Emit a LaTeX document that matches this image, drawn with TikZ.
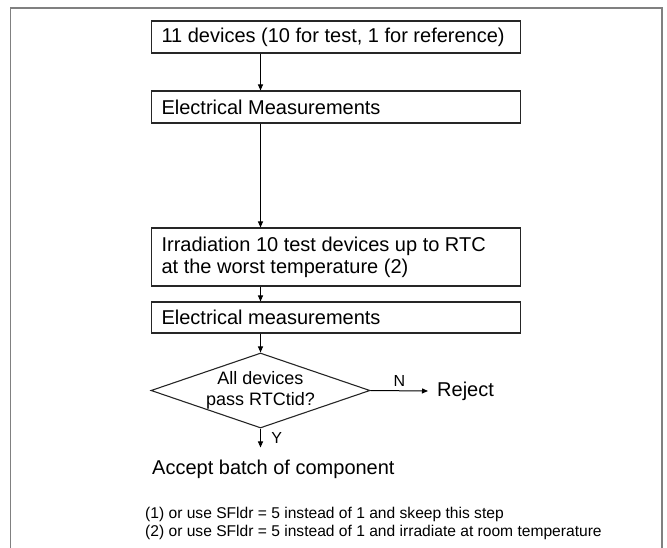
\documentclass[tikz,border=0pt]{standalone}
\usepackage{fontspec}
\setmainfont{Liberation Sans}
\usetikzlibrary{shapes.geometric,arrows.meta}

\tikzset{
  stepbox/.style={draw=black!85, line width=1.1pt, anchor=west, inner xsep=10pt, inner ysep=0pt,
    text width=349pt, align=flush left, font=\fontsize{20}{22}\selectfont},
  decision/.style={draw=black!85, line width=1.1pt, shape=diamond, aspect=2.92,
    minimum width=219pt, minimum height=75pt, inner sep=0pt, align=flush center,
    font=\fontsize{18}{21}\selectfont},
  flow/.style={-{Triangle[length=6pt,width=5pt]}, line width=1pt},
  lbl/.style={font=\fontsize{16}{18}\selectfont}
}

\begin{document}
\begin{tikzpicture}[x=1pt,y=-1pt]
\useasboundingbox (0,0) rectangle (667,548);
% frame round the chart
\draw[black!50, line width=1.6pt] (10.5,548) -- (10.5,8) -- (662,8) -- (662,548);

\node[stepbox, minimum height=32pt] (devices) at (151,37) {11 devices (10 for test, 1 for reference)};
\node[stepbox, minimum height=32pt] (meas1) at (151,107) {Electrical Measurements};
\node[stepbox, minimum height=58pt] (irrad) at (151,257) {Irradiation 10 test devices up to RTC\\at the worst temperature (2)};
\node[stepbox, minimum height=31pt] (meas2) at (151,317.5) {Electrical measurements};
\node[decision] (check) at (260.5,390.5) {All devices\\pass RTCtid?};
\node[anchor=west, inner xsep=9pt, font=\fontsize{20}{22}\selectfont] (reject) at (428,391) {Reject};
\node[anchor=west, inner xsep=0pt, inner ysep=12pt, font=\fontsize{20}{22}\selectfont] (accept) at (152,469) {Accept batch of component};
\node[anchor=west, inner sep=0pt, align=flush left, font=\fontsize{15.6}{18}\selectfont] (notes) at (145,523)
  {(1) or use SFldr = 5 instead of 1 and skeep this step\\(2) or use SFldr = 5 instead of 1 and irradiate at room temperature};

% connectors
\draw[flow] (devices.south -| check) -- (meas1.north -| check);
\draw[flow] (meas1.south -| check) -- (irrad.north -| check);
\draw[flow] (irrad.south -| check) -- (meas2.north -| check);
\draw[flow] (meas2.south -| check) -- (check.north);
\draw[flow] (check.east) -- (reject.west) node[lbl, midway, above] {N};
\draw[flow] (check.south) -- (accept.north -| check) node[lbl, midway, right, xshift=7pt] {Y};
\end{tikzpicture}
\end{document}
